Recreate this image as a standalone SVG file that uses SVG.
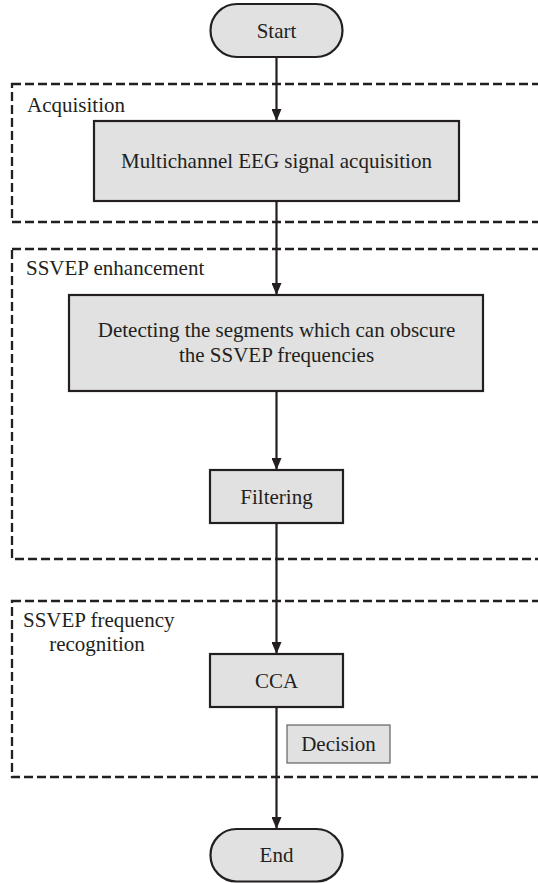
<svg xmlns="http://www.w3.org/2000/svg" width="538" height="883" viewBox="0 0 538 883">
<style>
.region{fill:none;stroke:#231f20;stroke-width:2.3;stroke-dasharray:9 4}
.box{fill:#e1e1e1;stroke:#231f20;stroke-width:2.2}
.thin{fill:#e1e1e1;stroke:#555;stroke-width:1.1}
.t{font-family:"Liberation Serif","Times New Roman",serif;font-size:21px;fill:#231f20}
.c{text-anchor:middle}
.conn{stroke:#231f20;stroke-width:2.2;fill:none;marker-end:url(#ah)}
</style>
<defs>
<marker id="ah" viewBox="0 0 12 10" refX="12" refY="5" markerWidth="12" markerHeight="10" markerUnits="userSpaceOnUse" orient="auto">
<path d="M0,0 L12,5 L0,10 z" fill="#231f20"/>
</marker>
</defs>
<rect width="538" height="883" fill="#fff"/>
<g id="region-acquisition">
<rect class="region" x="12" y="84" width="540" height="138"/>
<text class="t" x="27" y="112">Acquisition</text>
</g>
<g id="region-enhancement">
<rect class="region" x="12" y="249" width="540" height="310"/>
<text class="t" x="26" y="275">SSVEP enhancement</text>
</g>
<g id="region-recognition">
<rect class="region" x="12" y="601" width="540" height="176"/>
<text class="t" x="23" y="627">SSVEP frequency</text>
<text class="t c" x="97" y="651">recognition</text>
</g>
<g id="connectors">
<line class="conn" x1="276.5" y1="57" x2="276.5" y2="121"/>
<line class="conn" x1="276.5" y1="201" x2="276.5" y2="295"/>
<line class="conn" x1="276.5" y1="391" x2="276.5" y2="470"/>
<line class="conn" x1="276.5" y1="523" x2="276.5" y2="654"/>
<line class="conn" x1="276.5" y1="707" x2="276.5" y2="829"/>
</g>
<g id="start">
<rect class="box" x="210.5" y="4" width="132" height="53" rx="26.5"/>
<text class="t c" x="276.5" y="37.5">Start</text>
</g>
<g id="acquire">
<rect class="box" x="94" y="121" width="365" height="80"/>
<text class="t c" x="276.5" y="168">Multichannel EEG signal acquisition</text>
</g>
<g id="detect">
<rect class="box" x="69" y="295" width="414" height="96"/>
<text class="t c" x="276.5" y="337">Detecting the segments which can obscure</text>
<text class="t c" x="276.5" y="362">the SSVEP frequencies</text>
</g>
<g id="filtering">
<rect class="box" x="210" y="470" width="133" height="53"/>
<text class="t c" x="276.5" y="503.5">Filtering</text>
</g>
<g id="cca">
<rect class="box" x="210" y="654" width="133" height="53"/>
<text class="t c" x="276.5" y="687.5">CCA</text>
</g>
<g id="decision">
<rect class="thin" x="287" y="725" width="103" height="38"/>
<text class="t c" x="338.5" y="751">Decision</text>
</g>
<g id="end">
<rect class="box" x="210.5" y="829" width="132" height="52.5" rx="26"/>
<text class="t c" x="276.5" y="862">End</text>
</g>
</svg>
